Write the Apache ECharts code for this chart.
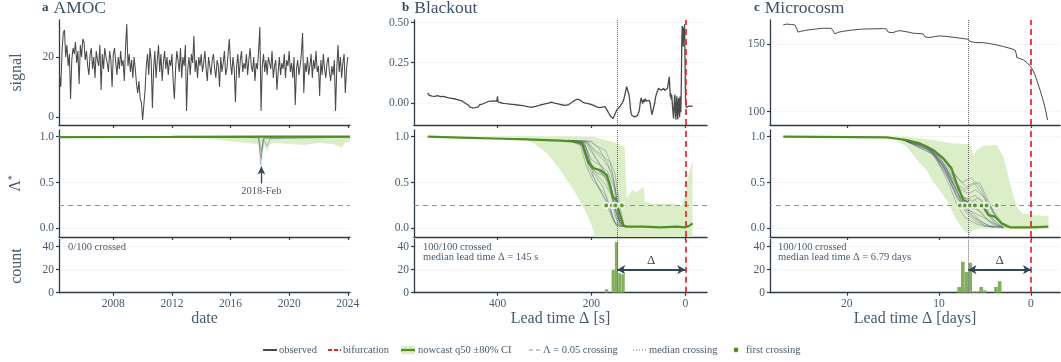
<!DOCTYPE html>
<html><head><meta charset="utf-8">
<script src="https://cdn.jsdelivr.net/npm/echarts@6/dist/echarts.min.js"></script>
<style>html,body{margin:0;padding:0;background:#fff}#c{width:1061px;height:362px}</style>
</head><body><div id="c"></div><script>
// ---------------- DATA ----------------
// Panel a: AMOC, monthly samples starting May 2004
const amocStartYear = 2004.33;
const amocSignal = [
 14,10,22,28,29,20,24,17,
 21,6,19,23,21,25,18,22,11,24,20,26,
 25,19,22,17,14,21,23,16,20,13,22,19,
 17,24,9,21,16,23,20,18,15,22,19,10,
 21,23,18,14,20,16,22,17,19,12,23,31,
 17,21,15,19,13,20,16,11,8,12,6,5,
 -1,4,9,17,21,14,23,19,3,16,22,13,
 19,24,15,21,12,18,22,16,20,14,19,17,
 21,12,6,16,22,19,15,23,13,20,17,24,
 2,16,20,14,21,18,27,15,19,13,20,17,
 21,15,18,22,16,12,20,17,14,19,21,16,
 13,19,17,10,20,15,18,22,14,16,21,26,
 18,14,20,16,5,17,21,13,19,22,15,18,
 16,21,14,19,23,17,15,20,12,18,16,22,
 30,2,17,21,15,19,14,20,18,16,22,13,
 17,19,9,15,20,14,18,16,21,13,19,17,
 22,15,18,13,20,4,16,19,14,17,21,28,
 8,18,15,20,14,17,21,13,19,16,22,15,
 17,7,19,14,21,16,13,18,20,15,12,17,
 14,19,2,16,24,15,20,13,18,21,8,16,
 20
];
const amocMedian = [[2004.29,0.995],[2012,0.997],[2018.0,1.0],[2018.1,0.985],[2018.2,1.0],[2024.15,1.0]];
const amocBandUpper = [[2004.29,1.004],[2024.15,1.006]];
const amocBandLower = [[2004.29,0.995],[2013,0.99],[2014,0.98],[2015,0.97],[2016,0.95],[2017,0.93],[2017.9,0.92],[2018.1,0.74],[2018.3,0.9],[2018.5,0.84],[2018.7,0.92],[2019,0.93],[2020,0.92],[2021,0.91],[2022,0.93],[2023,0.92],[2023.6,0.88],[2023.8,0.93],[2024.15,0.95]];
const amocEnsemble = [
 [[2004.29,0.998],[2017.9,0.995],[2018.06,0.69],[2018.2,0.98],[2024.15,0.997]],
 [[2004.29,0.998],[2017.9,0.99],[2018.08,0.76],[2018.25,0.97],[2018.5,0.9],[2018.7,0.98],[2024.15,0.995]],
 [[2004.29,0.998],[2017.95,0.99],[2018.1,0.84],[2018.3,0.99],[2024.15,0.998]]
];
const amocEventYear = 2018.1;

// Panel b: Blackout  [lead time s, value]
const blackoutSignal = [[549,0.062],[546,0.048],[543,0.055],[540,0.042],[537,0.050],[534,0.040],[531,0.052],[528,0.045],[525,0.050],[522,0.038],[519,0.046],[516,0.040],[513,0.044],[510,0.035],[507,0.042],[504,0.030],[501,0.036],[498,0.028],[495,0.034],[492,0.025],[489,0.030],[486,0.020],[483,0.026],[480,0.015],[477,0.020],[474,0.008],[471,0.010],[468,-0.005],[465,0.000],[462,-0.015],[459,-0.028],[456,-0.020],[453,-0.032],[450,-0.022],[447,-0.030],[444,-0.018],[441,-0.025],[438,-0.012],[435,-0.018],[432,-0.008],[429,-0.012],[426,0.000],[423,-0.006],[420,0.008],[417,0.002],[414,0.010],[411,0.004],[408,0.012],[405,0.002],[402,0.008],[400,0.040],[399,0.005],[396,0.010],[393,0.000],[390,0.006],[387,-0.004],[384,0.004],[381,-0.006],[378,0.002],[375,-0.008],[372,-0.002],[369,-0.010],[366,-0.004],[363,-0.012],[360,-0.006],[357,-0.014],[354,-0.008],[351,-0.016],[348,-0.010],[345,-0.018],[342,-0.012],[339,-0.022],[336,-0.016],[333,-0.026],[330,-0.018],[327,-0.028],[324,-0.020],[321,-0.024],[318,-0.014],[315,-0.020],[312,-0.010],[309,-0.014],[306,-0.004],[303,-0.010],[300,0.000],[297,-0.006],[294,0.004],[291,-0.002],[288,0.010],[285,0.004],[282,0.008],[279,-0.002],[276,0.002],[273,-0.006],[270,-0.002],[267,-0.010],[264,-0.006],[261,-0.014],[258,-0.008],[255,-0.016],[252,-0.020],[249,-0.012],[246,-0.008],[243,0.000],[240,0.006],[237,0.012],[234,0.016],[231,0.022],[228,0.026],[225,0.018],[222,0.010],[219,0.004],[216,0.006],[213,-0.002],[210,0.002],[207,-0.006],[204,-0.002],[201,-0.010],[198,-0.008],[195,-0.016],[192,-0.020],[189,-0.026],[186,-0.024],[183,-0.030],[180,-0.024],[177,-0.028],[174,-0.016],[171,-0.024],[168,-0.040],[165,-0.055],[162,-0.070],[159,-0.085],[156,-0.095],[154,-0.098],[151,-0.080],[148,-0.060],[146,-0.046],[143,-0.035],[140,-0.025],[137,-0.018],[134,0.000],[131,0.020],[128,0.060],[125,0.100],[124,0.110],[122,0.090],[120,0.050],[118.5,0.020],[117,-0.030],[115.5,-0.065],[114,-0.078],[112,-0.085],[110,-0.080],[108,-0.088],[106,-0.082],[104,-0.086],[102,-0.080],[100,-0.078],[98,-0.050],[96,0.000],[94,0.030],[93,0.025],[91,-0.005],[89,0.020],[87,0.005],[85,0.025],[83,0.010],[81,0.020],[79,0.000],[77,0.015],[75,0.000],[73,-0.040],[71,-0.075],[69,-0.078],[67,-0.070],[65,0.000],[63,0.040],[61,0.058],[59,0.075],[57,0.090],[55,0.085],[53,0.094],[51,0.078],[49.5,0.088],[48,0.080],[46,0.090],[44,0.076],[42,0.086],[40,0.078],[38,0.090],[36,0.100],[34,0.162],[33,0.100],[32,0.037],[31,0.060],[30,0.020],[29,0.050],[27,-0.030],[25,-0.098],[24,-0.040],[23,0.030],[22,0.050],[21,-0.060],[20,-0.104],[19,-0.020],[18,0.040],[17,-0.050],[16,-0.104],[15,0.000],[14,0.030],[13,-0.050],[12,-0.090],[11,0.040],[10.5,0.040],[9.5,-0.060],[8.5,0.100],[7.5,0.370],[6.5,0.480],[5.5,0.440],[4.5,0.350],[3.5,0.470],[2.5,0.400],[1.5,0.490],[0.5,0.480],[-0.5,0.020],[-2,-0.030],[-4,-0.040],[-6,-0.025],[-8,-0.020],[-10,-0.024],[-12,-0.018],[-14,-0.022],[-15.5,-0.020]];
const blackoutMedian = [[549,1.0],[480,0.99],[406.6,0.98],[337.9,0.97],[266.8,0.956],[231,0.945],[220,0.93],[213.4,0.82],[206,0.71],[195.7,0.655],[181.4,0.636],[167,0.58],[160,0.455],[154.3,0.345],[147.2,0.31],[145,0.255],[138.7,0.145],[131.6,0.025],[124.5,0.018],[89,0.018],[53.5,0.011],[18,0.018],[0,0.011],[-8,0.025],[-15.5,0.055]];
const blackoutBandUpper = [[549,1.0],[359,1.005],[238,1.005],[196,1.0],[160,0.95],[140,0.92],[131.6,0.89],[129,0.87],[127,0.6],[125,0.33],[120,0.36],[113,0.42],[106,0.4],[99,0.41],[92,0.44],[88,0.44],[86,0.29],[75,0.27],[50,0.27],[25,0.27],[13,0.24],[8,0.25],[3,0.3],[-2,0.45],[-8,0.6],[-15.5,0.745]];
const blackoutBandLower = [[549,0.995],[400,0.995],[359,0.99],[340,0.97],[323.7,0.93],[295,0.82],[267,0.64],[238,0.42],[210,0.16],[195.7,-0.02],[190,-0.15],[-15.5,-0.15]];
const blackoutEnsemble = [
 [[250,0.96],[220,0.94],[210,0.8],[195,0.6],[175,0.45],[160,0.2],[150,0.05],[140,0.02],[120,0.02]],
 [[250,0.96],[215,0.93],[200,0.7],[185,0.62],[165,0.55],[150,0.3],[140,0.08],[130,0.02]],
 [[250,0.96],[210,0.94],[195,0.85],[175,0.75],[155,0.6],[145,0.3],[135,0.05],[125,0.02]],
 [[250,0.96],[220,0.9],[205,0.65],[190,0.5],[170,0.3],[155,0.1],[145,0.03],[130,0.02]],
 [[250,0.96],[205,0.95],[190,0.9],[170,0.85],[150,0.6],[140,0.25],[130,0.03],[120,0.02]],
 [[250,0.96],[215,0.92],[200,0.75],[180,0.68],[160,0.5],[148,0.2],[138,0.03],[125,0.02]],
 [[250,0.96],[212,0.9],[195,0.55],[180,0.4],[162,0.25],[152,0.08],[140,0.02]],
 [[250,0.96],[208,0.93],[192,0.78],[172,0.62],[158,0.42],[146,0.15],[136,0.02]],
 [[250,0.96],[218,0.94],[203,0.72],[188,0.58],[170,0.48],[157,0.35],[143,0.1],[133,0.02]],
 [[250,0.96],[200,0.95],[185,0.88],[165,0.7],[150,0.45],[141,0.1],[128,0.02]],
 [[250,0.96],[222,0.93],[207,0.74],[193,0.66],[178,0.6],[163,0.5],[153,0.28],[144,0.05],[132,0.02]],
 [[250,0.96],[214,0.95],[198,0.82],[182,0.7],[166,0.62],[152,0.45],[142,0.12],[130,0.02]],
 [[250,0.96],[224,0.92],[211,0.68],[197,0.52],[183,0.44],[168,0.35],[156,0.15],[146,0.02]],
 [[250,0.96],[209,0.95],[194,0.86],[178,0.8],[160,0.72],[148,0.4],[139,0.06],[127,0.02]],
 [[250,0.96],[217,0.91],[202,0.66],[187,0.6],[172,0.57],[158,0.38],[149,0.12],[137,0.02]]
];
const blackoutFirstCross = [168.6,156.5,149.4,135.2];
const blackoutHistCenters = [167.5,153.5,146.5,139.5,132.5];
const blackoutHistCounts = [3,20,44,17,16];
const blackoutHistWidth = 7;
const blackoutMedianLead = 145;

// Panel c: Microcosm  [lead time days, value]
const microSignal = [[26.9,164.4],[26.5,165.0],[26.0,164.6],[25.65,164.4],[25.4,161],[25.3,159.0],[25.0,159.6],[24.5,160.3],[24.0,160.8],[23.5,161.2],[23.0,161.6],[22.5,161.9],[22.0,161.8],[21.7,161.9],[21.5,160],[21.3,157.7],[21.0,158.8],[20.5,159.5],[20.0,160.0],[19.5,160.5],[19.0,160.8],[18.6,161.1],[18.0,161.3],[17.0,161.5],[16.0,161.6],[15.7,161.4],[15.5,159],[15.33,157.7],[15.0,158.6],[14.6,159.6],[14.24,160.1],[13.8,159.6],[13.3,159.0],[12.8,158.2],[12.3,158.0],[11.7,157.7],[11.5,155.5],[11.34,154.2],[11.0,155.0],[10.5,155.7],[9.9,156.2],[9.2,155.8],[8.44,155.2],[7.8,154.6],[7.2,154.1],[6.81,153.7],[6.65,152],[6.56,151.2],[6.0,151.3],[5.18,151.2],[4.5,150.5],[3.73,149.5],[3.0,148.3],[2.28,147.0],[1.74,145.8],[1.6,143],[1.56,140.3],[1.2,139.3],[0.83,138.4],[0.4,136.2],[0.03,133.4],[-0.2,130.8],[-0.44,127.2],[-0.7,122],[-0.98,116.1],[-1.25,110],[-1.5,103.7],[-1.65,99],[-1.8,93.8]];
const microMedian = [[26.9,1.0],[15.7,0.993],[13.5,0.964],[12.07,0.927],[10.62,0.855],[9.53,0.764],[8.63,0.655],[8.08,0.49],[7.36,0.31],[6.27,0.255],[5.18,0.236],[4.64,0.145],[3.91,0.127],[3.19,0.055],[2.28,0.011],[0.03,0.011],[-1.89,0.018]];
const microBandUpper = [[26.9,1.0],[15.7,1.005],[13.5,1.0],[10.62,0.964],[8.44,0.927],[6.81,0.92],[6.5,0.9],[6.27,0.8],[5.9,0.85],[5.18,0.9],[3.73,0.91],[3.0,0.78],[2.28,0.49],[1.56,0.236],[1.0,0.164],[0.1,0.145],[-1.89,0.135]];
const microBandLower = [[26.9,0.995],[16,0.99],[14.96,0.98],[13.5,0.89],[12.07,0.71],[11.34,0.636],[10.62,0.51],[9.17,0.31],[8.08,0.09],[7.17,-0.036],[6.63,-0.07],[6.27,-0.018],[5.55,-0.005],[3,-0.01],[-1.89,-0.005]];
const microEnsemble = [
 [[14,0.97],[11,0.86],[9.5,0.7],[8.5,0.5],[7.5,0.3],[6.5,0.18],[5.5,0.08],[4.5,0.02],[3,0.01]],
 [[14,0.97],[11.5,0.9],[10,0.78],[8.8,0.6],[7.8,0.4],[7,0.3],[6,0.22],[5,0.12],[4,0.03],[3,0.01]],
 [[14,0.97],[12,0.92],[10.5,0.8],[9,0.55],[8,0.32],[7,0.2],[6,0.1],[5,0.03],[3,0.01]],
 [[14,0.97],[11,0.88],[9.5,0.75],[8,0.55],[7,0.45],[6.2,0.5],[5.5,0.4],[4.5,0.25],[3.5,0.08],[2.5,0.01]],
 [[14,0.97],[10.8,0.82],[9.2,0.58],[8.2,0.38],[7.2,0.22],[6.2,0.12],[5,0.05],[4,0.01]],
 [[14,0.97],[11.2,0.9],[9.8,0.78],[8.5,0.62],[7.5,0.5],[6.5,0.55],[5.5,0.45],[4.8,0.3],[3.8,0.15],[2.8,0.02]],
 [[14,0.97],[10.5,0.8],[9.2,0.65],[8.2,0.45],[7.5,0.28],[6.8,0.26],[6,0.3],[5,0.2],[4,0.06],[3,0.01]],
 [[14,0.97],[11.8,0.92],[10.2,0.75],[9,0.5],[8,0.25],[7.2,0.12],[6,0.05],[5,0.02],[3,0.01]],
 [[14,0.97],[11,0.87],[9.6,0.72],[8.6,0.55],[7.6,0.42],[6.8,0.38],[6,0.42],[5.2,0.35],[4.2,0.18],[3.2,0.03]],
 [[14,0.97],[10.6,0.84],[9,0.6],[7.8,0.35],[6.8,0.2],[5.8,0.15],[4.8,0.1],[3.6,0.03],[2.5,0.01]],
 [[14,0.97],[11.3,0.89],[9.9,0.74],[8.7,0.52],[7.7,0.34],[6.9,0.32],[6.1,0.36],[5.3,0.3],[4.4,0.12],[3.3,0.02]],
 [[14,0.97],[10.9,0.85],[9.4,0.66],[8.3,0.42],[7.4,0.26],[6.5,0.22],[5.6,0.2],[4.6,0.08],[3.4,0.01]],
 [[14,0.97],[11.6,0.91],[10.1,0.79],[8.9,0.64],[7.9,0.47],[7.1,0.42],[6.3,0.48],[5.6,0.5],[4.9,0.36],[4.0,0.16],[3.0,0.02]],
 [[14,0.97],[10.7,0.83],[9.3,0.62],[8.1,0.36],[7.1,0.18],[6.1,0.08],[5.1,0.03],[4,0.01]],
 [[14,0.97],[11.4,0.9],[9.7,0.7],[8.4,0.48],[7.3,0.34],[6.4,0.3],[5.7,0.33],[5.0,0.25],[4.1,0.1],[3.1,0.01]]
];
const microFirstCross = [7.72,7.17,6.63,6.09,5.36,4.82,3.73];
const microHistCenters = [7.8,7.4,7.0,6.6,6.2,5.8,5.4,5.0,3.8,3.4];
const microHistCounts = [5,27,18,26,1,1,5,2,5,10];
const microHistWidth = 0.4;
const microMedianLead = 6.79;

const threshold = 0.25;
const crossedText = ['0/100 crossed', '100/100 crossed\nmedian lead time Δ = 145 s', '100/100 crossed\nmedian lead time Δ = 6.79 days'];
const panelTitles = [['a','AMOC'],['b','Blackout'],['c','Microcosm']];
const xTicks = [[2008,2012,2016,2020,2024],[0,200,400],[0,10,20]];
const signalTicks = [[0,20],[0,0.25,0.5],[100,150]];
const lambdaTicks = [0,0.5,1];
const countTicks = [0,20,40];

// ---------------- STYLE / LAYOUT ----------------
const FONT = '"Liberation Serif","DejaVu Serif",serif';
const TXT = '#4a5b6d', AXC = '#2f3a45', GRIDC = '#f5f5f5';
const GREEN = '#4f8f23', BAND = '#dbeec8', BAR = '#82b05e', RED = '#e3262a', OBS = '#4a4a4a', ENS = 'rgba(70,84,112,0.42)', DASHG = '#8a939e';

const colLeft = [59, 414, 770], colWidth = [291, 293, 290];
const rowTop = [20, 130, 239.5], rowHeight = [105, 107, 53.2];
const xRange = [[2004.29, 2024.15, false], [-46.3, 578.1, true], [-3.15, 28.34, true]];
const yRanges = [
  [[-2.67, 32.33], [-0.095, 1.073], [0, 46.26]],
  [[-0.139, 0.517], [-0.095, 1.073], [0, 46.26]],
  [[90.1, 168.0], [-0.095, 1.073], [0, 46.26]]
];
const xNames = ['date', 'Lead time Δ [s]', 'Lead time Δ [days]'];
const yNames = ['signal', '{l|Λ}{s|*}', 'count'];
const yTickSets = (c, r) => r === 0 ? signalTicks[c] : (r === 1 ? lambdaTicks : countTicks);
const yFmt = (c, r) => v => {
  if (r === 1) return v.toFixed(1);
  if (r === 0 && c === 1) return v.toFixed(2);
  return String(v);
};
const gi = (c, r) => c * 3 + r;

const grid = [], xAxis = [], yAxis = [];
for (let c = 0; c < 3; c++) for (let r = 0; r < 3; r++) {
  grid.push({left: colLeft[c], top: rowTop[r], width: colWidth[c], height: rowHeight[r], containLabel: false});
  xAxis.push({
    type: 'value', gridIndex: gi(c, r), min: xRange[c][0], max: xRange[c][1], inverse: xRange[c][2],
    axisLine: {show: true, onZero: false, lineStyle: {color: AXC, width: 1.3}},
    axisTick: {show: true, length: 3, customValues: xTicks[c], lineStyle: {color: AXC, width: 1.2}},
    axisLabel: {show: r === 2, customValues: xTicks[c], margin: 5, color: TXT, fontFamily: FONT, fontSize: 11.5, formatter: v => String(v)},
    splitLine: {show: false},
    name: r === 2 ? xNames[c] : '', nameLocation: 'middle', nameGap: 17,
    nameTextStyle: {color: TXT, fontFamily: FONT, fontSize: 16, verticalAlign: 'top'}
  });
  yAxis.push({
    type: 'value', gridIndex: gi(c, r), min: yRanges[c][r][0], max: yRanges[c][r][1],
    axisLine: {show: true, onZero: false, lineStyle: {color: AXC, width: 1.3}},
    axisTick: {show: true, length: 3, customValues: yTickSets(c, r), lineStyle: {color: AXC, width: 1.2}},
    axisLabel: {show: true, customValues: yTickSets(c, r), margin: 5, color: TXT, fontFamily: FONT, fontSize: 11.5, formatter: yFmt(c, r)},
    splitLine: {show: true, lineStyle: {color: GRIDC, width: 1}},
    name: c === 0 ? yNames[r] : '', nameLocation: 'middle', nameGap: 34, nameRotate: 90,
    nameTextStyle: {color: TXT, fontFamily: FONT, fontSize: 16, rich: {l: {fontSize: 16, fontFamily: FONT, color: TXT}, s: {fontSize: 10, fontFamily: FONT, color: TXT, verticalAlign: 'top', padding: [0,0,8,0]}}}
  });
}

const series = [];
function lineS(g, data, color, width, extra) {
  series.push(Object.assign({type: 'line', xAxisIndex: g, yAxisIndex: g, data, showSymbol: false, symbol: 'none', silent: true, animation: false, clip: true,
    lineStyle: {color, width}, z: 3}, extra || {}));
}
function bandS(g, upper, lower) {
  series.push({type: 'custom', xAxisIndex: g, yAxisIndex: g, clip: true, silent: true, animation: false, z: 1,
    data: [upper[0]],
    renderItem: (p, api) => {
      const pts = upper.map(q => api.coord(q)).concat(lower.slice().reverse().map(q => api.coord(q)));
      return {type: 'polygon', shape: {points: pts}, style: {fill: BAND}};
    }});
}
function histS(g, centers, counts, w) {
  series.push({type: 'custom', xAxisIndex: g, yAxisIndex: g, clip: true, silent: true, animation: false, z: 2,
    data: centers.map((c, i) => [c, counts[i]]),
    renderItem: (p, api) => {
      const c = api.value(0), n = api.value(1);
      const p0 = api.coord([c - w / 2, n]), p1 = api.coord([c + w / 2, 0]);
      return {type: 'rect', shape: {x: Math.min(p0[0], p1[0]), y: p0[1], width: Math.abs(p1[0] - p0[0]), height: p1[1] - p0[1]}, style: {fill: BAR}};
    }});
}
function refS(g, markData, z) {
  series.push({type: 'line', xAxisIndex: g, yAxisIndex: g, data: [], silent: true, animation: false, z: z || 5,
    markLine: {silent: true, symbol: ['none', 'none'], animation: false, label: {show: false}, data: markData}});
}
const vLine = (x, color, type, width) => ({xAxis: x, lineStyle: {color, type, width}});
const hLine = (y) => ({yAxis: y, lineStyle: {color: DASHG, type: [5, 4], width: 1}});

// Panel a
lineS(gi(0,0), amocSignal.map((v, i) => [amocStartYear + i / 12, v]), OBS, 1.05);
bandS(gi(0,1), amocBandUpper, amocBandLower);
amocEnsemble.forEach(t => lineS(gi(0,1), t, ENS, 0.8, {z: 2}));
lineS(gi(0,1), amocMedian, GREEN, 2.2, {z: 4});
refS(gi(0,1), [hLine(threshold)], 3);
series.push({type: 'line', xAxisIndex: gi(0,1), yAxisIndex: gi(0,1), data: [], silent: true, animation: false, z: 6,
  markLine: {silent: true, animation: false, symbol: ['none', 'arrow'], symbolSize: [6, 8], label: {show: false},
    lineStyle: {color: '#34475a', type: 'solid', width: 1.3},
    data: [[{coord: [amocEventYear, 0.49]}, {coord: [amocEventYear, 0.675]}]]},
  markPoint: {silent: true, animation: false, symbolSize: 0,
    label: {show: true, formatter: '2018-Feb', color: TXT, fontFamily: FONT, fontSize: 10.5, position: 'inside'},
    data: [{coord: [amocEventYear, 0.40]}]}
});

// Panels b, c helper
function leadPanel(c, signal, median, up, lo, ens, first, hc, hn, hw, medLead) {
  lineS(gi(c,0), signal, OBS, c === 1 ? 1.3 : 1);
  refS(gi(c,0), [vLine(medLead, '#6b6b6b', 'dotted', 1), vLine(0, RED, [6, 4], 1.7)], 5);
  bandS(gi(c,1), up, lo);
  ens.forEach(t => lineS(gi(c,1), t, ENS, 0.8, {z: 2}));
  lineS(gi(c,1), median, GREEN, 2.2, {z: 4});
  refS(gi(c,1), [hLine(threshold), vLine(medLead, '#6b6b6b', 'dotted', 1), vLine(0, RED, [6, 4], 1.7)], 5);
  series.push({type: 'scatter', xAxisIndex: gi(c,1), yAxisIndex: gi(c,1), silent: true, animation: false, z: 6,
    data: first.map(x => [x, threshold]), symbolSize: 5.5, itemStyle: {color: GREEN, borderColor: '#fff', borderWidth: 1.6}});
  histS(gi(c,2), hc, hn, hw);
  refS(gi(c,2), [vLine(medLead, '#6b6b6b', 'dotted', 1), vLine(0, RED, [6, 4], 1.7)], 5);
  series.push({type: 'line', xAxisIndex: gi(c,2), yAxisIndex: gi(c,2), data: [], silent: true, animation: false, z: 6,
    markLine: {silent: true, animation: false, symbol: ['arrow', 'arrow'], symbolSize: [7, 8],
      lineStyle: {color: '#34475a', type: 'solid', width: 1.8},
      label: {show: true, position: 'insideMiddleTop', distance: 3, formatter: 'Δ', color: '#34475a', fontFamily: FONT, fontSize: 13},
      data: [[{coord: [medLead, 20]}, {coord: [0, 20]}]]}});
}
leadPanel(1, blackoutSignal, blackoutMedian, blackoutBandUpper, blackoutBandLower, blackoutEnsemble, blackoutFirstCross, blackoutHistCenters, blackoutHistCounts, blackoutHistWidth, blackoutMedianLead);
leadPanel(2, microSignal, microMedian, microBandUpper, microBandLower, microEnsemble, microFirstCross, microHistCenters, microHistCounts, microHistWidth, microMedianLead);

// Titles
const titleLeft = [42, 402, 754];
const title = panelTitles.map((t, i) => ({
  left: titleLeft[i], top: -1, padding: 0,
  text: '{b|' + t[0] + '} {t|' + t[1] + '}',
  textStyle: {fontWeight: 'normal', rich: {b: {fontFamily: FONT, fontSize: 13, fontWeight: 'bold', color: '#34475a'}, t: {fontFamily: FONT, fontSize: 17.5, fontWeight: 'normal', color: '#3f5166'}}}
}));

// Count-panel annotations + legend (graphic)
const annLeft = [68, 423, 778];
const graphic = annLeft.map((x, i) => ({type: 'text', left: x, top: 241.5, silent: true, z: 100,
  style: {text: crossedText[i], fill: TXT, font: '10.5px ' + FONT, lineHeight: 10.5}}));
const LY = 350;
const legendItems = [
  {type: 'line', shape: {x1: 263, y1: LY, x2: 277, y2: LY}, style: {stroke: OBS, lineWidth: 2}},
  {type: 'text', x: 279, y: LY, style: {text: 'observed', fill: TXT, font: '10.5px ' + FONT, verticalAlign: 'middle'}},
  {type: 'line', shape: {x1: 328, y1: LY, x2: 341, y2: LY}, style: {stroke: RED, lineWidth: 2, lineDash: [4, 2]}},
  {type: 'text', x: 343, y: LY, style: {text: 'bifurcation', fill: TXT, font: '10.5px ' + FONT, verticalAlign: 'middle'}},
  {type: 'rect', shape: {x: 401, y: LY - 4, width: 14, height: 8}, style: {fill: BAND}},
  {type: 'line', shape: {x1: 401, y1: LY, x2: 415, y2: LY}, style: {stroke: GREEN, lineWidth: 2.2}},
  {type: 'text', x: 418, y: LY, style: {text: 'nowcast q50 ±80% CI', fill: TXT, font: '10.5px ' + FONT, verticalAlign: 'middle'}},
  {type: 'line', shape: {x1: 529, y1: LY, x2: 541, y2: LY}, style: {stroke: DASHG, lineWidth: 1.2, lineDash: [4, 3]}},
  {type: 'text', x: 543, y: LY, style: {text: 'Λ = 0.05 crossing', fill: TXT, font: '10.5px ' + FONT, verticalAlign: 'middle'}},
  {type: 'line', shape: {x1: 633, y1: LY, x2: 646, y2: LY}, style: {stroke: '#6b6b6b', lineWidth: 1, lineDash: [1, 2]}},
  {type: 'text', x: 649, y: LY, style: {text: 'median crossing', fill: TXT, font: '10.5px ' + FONT, verticalAlign: 'middle'}},
  {type: 'circle', shape: {cx: 736, cy: LY, r: 2.4}, style: {fill: GREEN}},
  {type: 'text', x: 746, y: LY, style: {text: 'first crossing', fill: TXT, font: '10.5px ' + FONT, verticalAlign: 'middle'}}
];
legendItems.forEach(e => { e.silent = true; graphic.push(e); });

const chart = echarts.init(document.getElementById('c'));
chart.setOption({animation: false, backgroundColor: '#fff', title, grid, xAxis, yAxis, series, graphic});
</script></body></html>
